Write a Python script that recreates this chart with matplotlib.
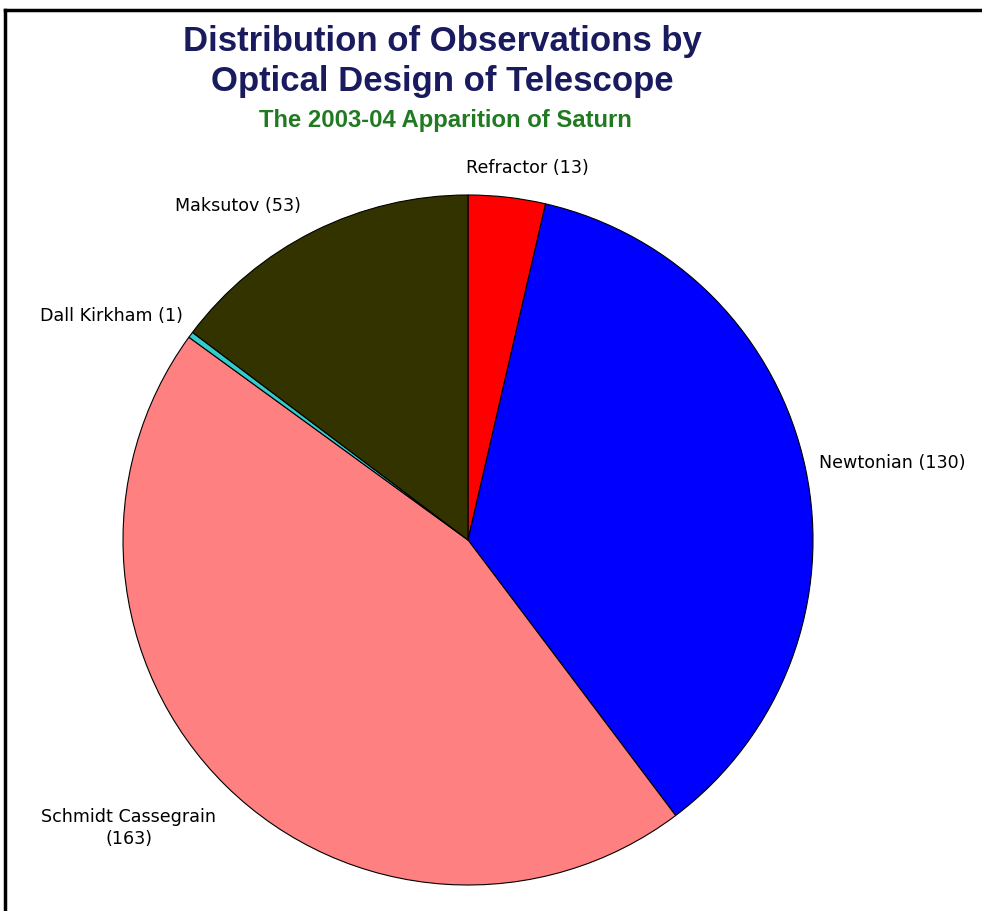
import matplotlib
matplotlib.use('Agg')
import matplotlib.pyplot as plt
from matplotlib.lines import Line2D

# telescope designs, clockwise from 12 o'clock
designs = ['Refractor', 'Newtonian', 'Schmidt Cassegrain', 'Dall Kirkham', 'Maksutov']
counts = [13, 130, 163, 1, 53]
colors = ['#ff0000', '#0000ff', '#ff8080', '#33cccc', '#333300']

plt.rcParams['font.family'] = ['Liberation Sans', 'DejaVu Sans']

W, H = 982, 911
fig = plt.figure(figsize=(W / 100, H / 100), dpi=100)
ax = fig.add_axes([0, 0, 1, 1])

ax.pie(counts, colors=colors, startangle=90, counterclock=False,
       center=(468, H - 540), radius=345,
       wedgeprops=dict(edgecolor='black', linewidth=0.8))
ax.set_xlim(0, W)
ax.set_ylim(0, H)
ax.set_aspect('equal')
ax.axis('off')

# frame (top and left edges visible)
fig.add_artist(Line2D([5 / W, 1], [1 - 10 / H, 1 - 10 / H], color='black', lw=2.5))
fig.add_artist(Line2D([5 / W, 5 / W], [0, 1 - 10 / H], color='black', lw=2.5))

# titles
fig.text(442 / W, 1 - 42 / H, 'Distribution of Observations by', ha='center', va='center',
         fontsize=25, fontweight='bold', color='#1a1a5e')
fig.text(442 / W, 1 - 81 / H, 'Optical Design of Telescope', ha='center', va='center',
         fontsize=25, fontweight='bold', color='#1a1a5e')
fig.text(445 / W, 1 - 121 / H, 'The 2003-04 Apparition of Saturn', ha='center', va='center',
         fontsize=17.2, fontweight='bold', color='#217a21')

# slice labels
label_pos = {
    'Refractor': (527, 168, 'center'),
    'Newtonian': (819, 463, 'left'),
    'Schmidt Cassegrain': (129, 828, 'center'),
    'Dall Kirkham': (40, 316, 'left'),
    'Maksutov': (175, 206, 'left'),
}
for name, n in zip(designs, counts):
    x, y, ha = label_pos[name]
    if name == 'Schmidt Cassegrain':
        txt = f'{name}\n({n})'
    else:
        txt = f'{name} ({n})'
    ax.text(x, H - y, txt, ha=ha, va='center', fontsize=12.6, color='black',
            family='DejaVu Sans', linespacing=1.3)

fig.savefig('out.png', dpi=100, facecolor='white')
